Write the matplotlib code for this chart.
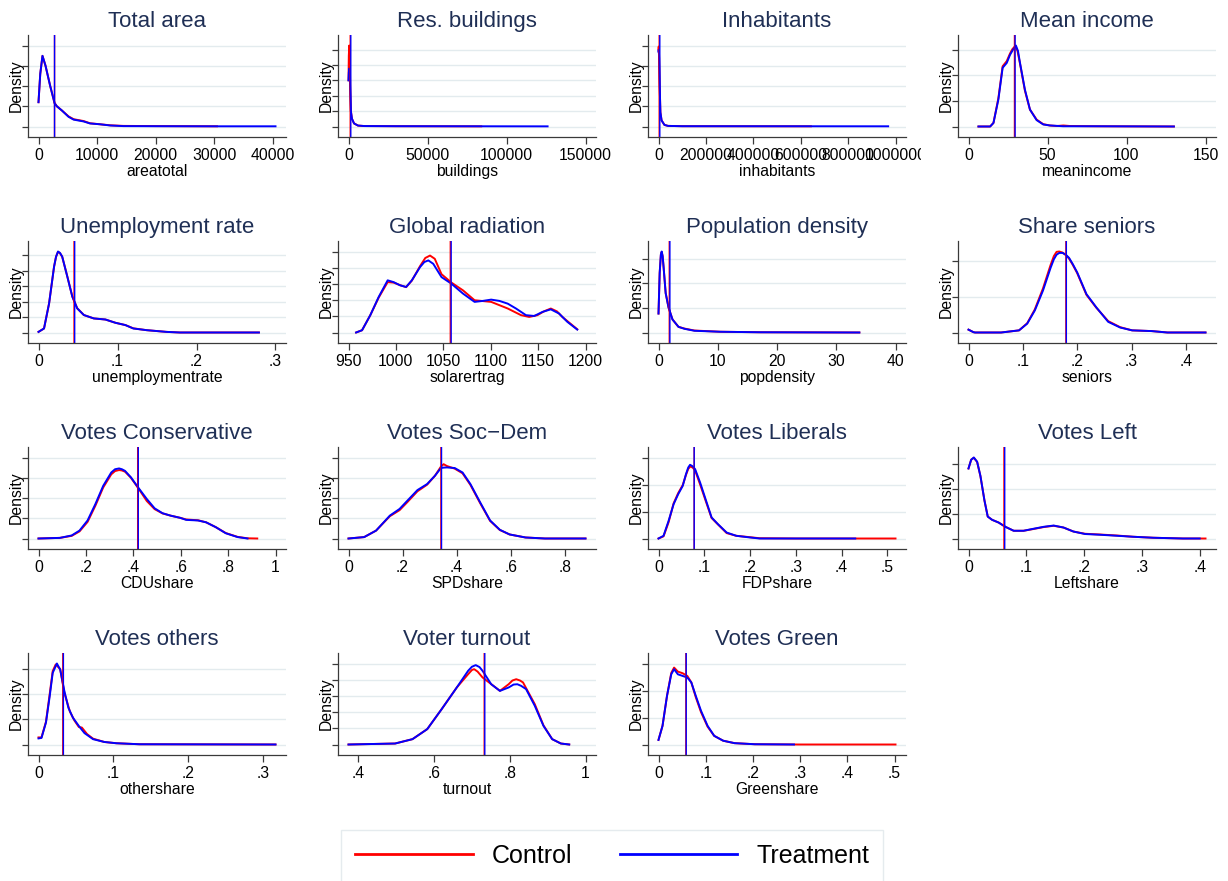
import matplotlib
matplotlib.use('Agg')
import matplotlib.pyplot as plt
from matplotlib.transforms import Bbox, TransformedBbox

plt.rcParams['font.family'] = ['Liberation Sans', 'DejaVu Sans']

# densities are given in units of the (unlabelled) y grid spacing

# Total area
area_x_c = [0, 300, 680, 1200, 2000, 2740, 3130, 4000, 5130, 6000, 7700, 8800, 10500, 12250, 14500, 20000, 30500]
area_y_c = [1.2, 2.6, 3.49, 3.0, 2.0, 1.16, 1.0, 0.79, 0.5, 0.36, 0.27, 0.16, 0.11, 0.06, 0.03, 0.02, 0.01]
area_x_t = [0, 300, 680, 1200, 2000, 2740, 3130, 4000, 5130, 6000, 7700, 8800, 10500, 12250, 14500, 20000, 30000, 40500]
area_y_t = [1.2, 2.6, 3.49, 3.0, 2.0, 1.16, 1.0, 0.79, 0.48, 0.34, 0.25, 0.15, 0.11, 0.05, 0.02, 0.015, 0.01, 0.01]
area_means = [2740, 2740]
area_ticks = [0, 10000, 20000, 30000, 40000]
area_labels = ['0', '10000', '20000', '30000', '40000']

# Res. buildings
bld_x_c = [0, 200, 500, 800, 1100, 1500, 2200, 3500, 6000, 10000, 30000, 84000]
bld_y_c = [3.0, 4.6, 5.26, 4.5, 2.5, 1.0, 0.5, 0.2, 0.06, 0.03, 0.02, 0.01]
bld_x_t = [0, 200, 500, 800, 1100, 1500, 2200, 3500, 6000, 10000, 30000, 126000]
bld_y_t = [3.0, 3.5, 3.76, 3.4, 2.2, 1.0, 0.5, 0.2, 0.06, 0.03, 0.02, 0.01]
bld_means = [1100, 1450]
bld_ticks = [0, 50000, 100000, 150000]
bld_labels = ['0', '50000', '100000', '150000']

# Inhabitants
inh_x_c = [0, 1000, 2500, 5000, 8000, 13000, 25000, 40000, 100000, 643000]
inh_y_c = [3.8, 3.95, 3.5, 2.0, 0.7, 0.3, 0.08, 0.03, 0.015, 0.01]
inh_x_t = [0, 1000, 2500, 5000, 8000, 13000, 25000, 40000, 100000, 969000]
inh_y_t = [3.7, 3.79, 3.4, 2.0, 0.7, 0.3, 0.08, 0.03, 0.015, 0.01]
inh_means = [3000, 5500]
inh_ticks = [0, 200000, 400000, 600000, 800000, 1000000]
inh_labels = ['0', '200000', '400000', '600000', '800000', '1000000']

# Mean income
inc_x_c = [6.3, 13.7, 15.8, 18.9, 21.6, 24.2, 26.3, 27.8, 29.6, 31.0, 32.6, 35.7, 38.9, 43.1, 47.3, 51.5,
           56, 60, 64, 80, 130]
inc_y_c = [0, 0.0, 0.14, 1.1, 2.35, 2.55, 2.85, 3.02, 3.14, 2.95, 2.45, 1.4, 0.66, 0.27, 0.09, 0.04,
           0.02, 0.04, 0.02, 0.01, 0.0]
inc_x_t = [6.3, 13.7, 15.8, 18.9, 21.6, 24.2, 26.3, 28.2, 30.0, 31.3, 32.6, 35.7, 38.9, 43.1, 47.3, 51.5,
           60, 80, 130]
inc_y_t = [0, 0.0, 0.14, 1.05, 2.29, 2.48, 2.8, 3.0, 3.16, 2.95, 2.48, 1.44, 0.66, 0.25, 0.08, 0.04,
           0.01, 0.01, 0.0]
inc_means = [29.1, 29.5]
inc_ticks = [0, 50, 100, 150]
inc_labels = ['0', '50', '100', '150']

# Unemployment rate
unemp_x = [0, 0.007, 0.0134, 0.0197, 0.0222, 0.0247, 0.0272, 0.030, 0.0365, 0.0428, 0.049, 0.0574, 0.07,
           0.0847, 0.0973, 0.11, 0.12, 0.137, 0.162, 0.179, 0.279]
unemp_y_c = [0.04, 0.26, 1.88, 4.26, 4.9, 5.22, 5.13, 4.9, 3.62, 2.33, 1.57, 1.13, 0.91,
             0.84, 0.63, 0.48, 0.27, 0.15, 0.04, 0.0, 0.0]
unemp_y_t = [0.04, 0.26, 1.88, 4.26, 4.9, 5.24, 5.15, 4.91, 3.61, 2.32, 1.56, 1.13, 0.91,
             0.84, 0.63, 0.48, 0.26, 0.15, 0.04, 0.0, 0.0]
unemp_means = [0.0450, 0.0458]
unemp_ticks = [0, 0.1, 0.2, 0.3]
unemp_labels = ['0', '.1', '.2', '.3']

# Global radiation
rad_x_c = [958, 964.3, 973, 981.8, 991.3, 997.6, 1004.5, 1010.8, 1016.8, 1025.5, 1031, 1036, 1041, 1048.1,
           1058.6, 1070.8, 1083, 1100.5, 1118, 1132, 1140.6, 1149.3, 1156, 1163.4, 1170, 1175.6, 1183, 1191.3]
rad_y_c = [0, 0.14, 1.07, 2.15, 3.11, 3.08, 2.92, 2.8, 3.2, 4.1, 4.6, 4.75, 4.55, 3.6,
           3.08, 2.6, 1.99, 1.89, 1.48, 1.07, 0.96, 1.07, 1.3, 1.48, 1.3, 0.96, 0.6, 0.2]
rad_x_t = [958, 964.3, 973, 981.8, 991.3, 997.6, 1004.5, 1010.8, 1016.8, 1025.5, 1030, 1034.2, 1039.4, 1048.1,
           1058.6, 1070.8, 1083, 1091.8, 1100.5, 1109.2, 1118, 1126.7, 1137.2, 1145.9, 1154.6, 1163.4,
           1172.1, 1180.8, 1191.3]
rad_y_t = [0, 0.14, 1.07, 2.19, 3.22, 3.11, 2.91, 2.81, 3.22, 4.04, 4.35, 4.45, 4.24, 3.42,
           3.01, 2.4, 1.89, 1.95, 2.03, 1.95, 1.78, 1.48, 1.07, 1.02, 1.27, 1.43,
           1.17, 0.66, 0.18]
rad_means = [1057.4, 1058.3]
rad_ticks = [950, 1000, 1050, 1100, 1150, 1200]
rad_labels = ['950', '1000', '1050', '1100', '1150', '1200']

# Population density
pop_x = [0, 0.2, 0.4, 0.54, 0.7, 0.88, 1.21, 1.69, 2.36, 3.37, 4.38, 6.07, 10.45, 17.2, 33.9]
pop_y_c = [0.77, 2.42, 3.15, 3.27, 3.1, 2.6, 1.6, 1.02, 0.53, 0.23, 0.16, 0.08, 0.03, 0.01, 0.0]
pop_y_t = [0.77, 2.42, 3.17, 3.29, 3.1, 2.59, 1.6, 1.02, 0.53, 0.23, 0.15, 0.07, 0.03, 0.01, 0.0]
pop_means = [1.82, 1.92]
pop_ticks = [0, 10, 20, 30, 40]
pop_labels = ['0', '10', '20', '30', '40']

# Share seniors
sen_x = [0, 0.009, 0.012, 0.06, 0.093, 0.108, 0.122, 0.137, 0.151, 0.157, 0.162, 0.167, 0.173, 0.179,
         0.185, 0.192, 0.2, 0.217, 0.235, 0.257, 0.279, 0.301, 0.337, 0.366, 0.436]
sen_y_c = [0.08, 0.01, 0.0, 0.0, 0.06, 0.26, 0.65, 1.24, 1.9, 2.15, 2.27, 2.28, 2.25, 2.18,
           2.08, 1.9, 1.67, 1.06, 0.7, 0.32, 0.15, 0.06, 0.04, 0.0, 0.0]
sen_y_t = [0.08, 0.01, 0.0, 0.0, 0.06, 0.25, 0.62, 1.18, 1.82, 2.06, 2.19, 2.24, 2.24, 2.19,
           2.1, 1.92, 1.69, 1.08, 0.71, 0.3, 0.14, 0.06, 0.04, 0.0, 0.0]
sen_means = [0.1792, 0.1800]
sen_ticks = [0, 0.1, 0.2, 0.3, 0.4]
sen_labels = ['0', '.1', '.2', '.3', '.4']

# Votes Conservative
cdu_x_c = [0, 0.09, 0.14, 0.173, 0.207, 0.24, 0.273, 0.307, 0.323, 0.34, 0.352, 0.365, 0.39, 0.423, 0.457,
           0.49, 0.523, 0.557, 0.598, 0.623, 0.673, 0.707, 0.748, 0.79, 0.84, 0.882, 0.923]
cdu_y_c = [0, 0.03, 0.13, 0.35, 0.82, 1.62, 2.52, 3.17, 3.33, 3.38, 3.36, 3.3, 3.0, 2.45, 1.85,
           1.45, 1.24, 1.13, 1.02, 0.94, 0.9, 0.8, 0.56, 0.27, 0.08, 0.01, 0.0]
cdu_x_t = [0, 0.09, 0.14, 0.173, 0.207, 0.24, 0.273, 0.307, 0.323, 0.34, 0.352, 0.365, 0.39, 0.423, 0.457,
           0.49, 0.523, 0.557, 0.598, 0.623, 0.673, 0.707, 0.748, 0.79, 0.84, 0.882]
cdu_y_t = [0, 0.03, 0.15, 0.39, 0.89, 1.7, 2.6, 3.26, 3.42, 3.46, 3.42, 3.34, 3.02, 2.48, 1.95,
           1.49, 1.25, 1.13, 1.02, 0.92, 0.89, 0.8, 0.56, 0.26, 0.07, 0.0]
cdu_means = [0.4185, 0.421]
cdu_ticks = [0, 0.2, 0.4, 0.6, 0.8, 1.0]
cdu_labels = ['0', '.2', '.4', '.6', '.8', '1']

# Votes Soc-Dem
spd_x = [0, 0.058, 0.102, 0.153, 0.189, 0.218, 0.255, 0.291, 0.32, 0.342, 0.352, 0.364, 0.393, 0.422,
         0.451, 0.487, 0.524, 0.56, 0.596, 0.655, 0.727, 0.877]
spd_y_c = [0, 0.07, 0.39, 1.1, 1.4, 1.8, 2.33, 2.66, 3.1, 3.55, 3.67, 3.58, 3.45, 3.22,
           2.65, 1.75, 0.87, 0.42, 0.2, 0.05, 0.0, 0.0]
spd_y_t = [0, 0.07, 0.39, 1.13, 1.46, 1.87, 2.39, 2.69, 3.1, 3.48, 3.5, 3.51, 3.48, 3.26,
           2.69, 1.79, 0.89, 0.43, 0.2, 0.05, 0.0, 0.0]
spd_means = [0.342, 0.3442]
spd_ticks = [0, 0.2, 0.4, 0.6, 0.8]
spd_labels = ['0', '.2', '.4', '.6', '.8']

# Votes Liberals
fdp_x_c = [0, 0.011, 0.022, 0.033, 0.043, 0.053, 0.06, 0.065, 0.07, 0.075, 0.08, 0.091, 0.104, 0.116,
           0.13, 0.149, 0.17, 0.199, 0.221, 0.3, 0.518]
fdp_y_c = [0, 0.08, 0.6, 1.3, 1.68, 1.98, 2.35, 2.58, 2.67, 2.62, 2.52, 2.0, 1.35, 0.76,
           0.52, 0.2, 0.1, 0.05, 0.01, 0.0, 0.0]
fdp_x_t = [0, 0.011, 0.022, 0.033, 0.043, 0.053, 0.06, 0.065, 0.069, 0.074, 0.08, 0.091, 0.104, 0.116,
           0.13, 0.149, 0.17, 0.199, 0.221, 0.3, 0.43]
fdp_y_t = [0, 0.1, 0.65, 1.27, 1.64, 1.95, 2.38, 2.63, 2.73, 2.68, 2.57, 2.07, 1.4, 0.78,
           0.53, 0.22, 0.1, 0.04, 0.0, 0.0, 0.0]
fdp_means = [0.078, 0.078]
fdp_ticks = [0, 0.1, 0.2, 0.3, 0.4, 0.5]
fdp_labels = ['0', '.1', '.2', '.3', '.4', '.5']

# Votes Left
left_x_c = [0, 0.0046, 0.0092, 0.0149, 0.0206, 0.0275, 0.0332, 0.0407, 0.052, 0.0636, 0.078, 0.095,
            0.112, 0.13, 0.147, 0.164, 0.181, 0.201, 0.227, 0.256, 0.284, 0.319, 0.37, 0.409]
left_y_c = [2.81, 3.16, 3.24, 3.07, 2.5, 1.53, 0.88, 0.75, 0.64, 0.47, 0.31, 0.31,
            0.38, 0.46, 0.51, 0.44, 0.28, 0.19, 0.16, 0.12, 0.07, 0.03, 0.0, 0.0]
left_x_t = [0, 0.0046, 0.0092, 0.0149, 0.0206, 0.0275, 0.0332, 0.0407, 0.052, 0.0636, 0.078, 0.095,
            0.112, 0.13, 0.147, 0.164, 0.181, 0.201, 0.227, 0.256, 0.284, 0.319, 0.37, 0.399]
left_y_t = [2.81, 3.16, 3.25, 3.08, 2.51, 1.53, 0.88, 0.75, 0.64, 0.47, 0.31, 0.31,
            0.39, 0.47, 0.52, 0.44, 0.28, 0.18, 0.15, 0.11, 0.07, 0.03, 0.0, 0.0]
left_means = [0.0612, 0.0625]
left_ticks = [0, 0.1, 0.2, 0.3, 0.4]
left_labels = ['0', '.1', '.2', '.3', '.4']

# Votes others
oth_x_c = [0, 0.004, 0.01, 0.015, 0.019, 0.023, 0.029, 0.0346, 0.042, 0.048, 0.054, 0.058, 0.065,
           0.073, 0.088, 0.104, 0.135, 0.317]
oth_y_c = [0.28, 0.28, 0.9, 2.0, 2.9, 3.16, 2.98, 2.04, 1.3, 0.95, 0.69, 0.67, 0.41,
           0.23, 0.1, 0.05, 0.01, 0.0]
oth_x_t = [0, 0.004, 0.01, 0.015, 0.019, 0.0246, 0.029, 0.0346, 0.04, 0.046, 0.054, 0.0615,
           0.073, 0.088, 0.104, 0.135, 0.317]
oth_y_t = [0.24, 0.26, 0.87, 1.91, 2.83, 3.2, 2.96, 2.11, 1.45, 1.06, 0.73, 0.45,
           0.21, 0.1, 0.05, 0.01, 0.0]
oth_means = [0.0325, 0.0333]
oth_ticks = [0, 0.1, 0.2, 0.3]
oth_labels = ['0', '.1', '.2', '.3']

# Voter turnout
turn_x_c = [0.374, 0.497, 0.543, 0.582, 0.62, 0.66, 0.69, 0.70, 0.706, 0.715, 0.728, 0.743, 0.774, 0.797,
            0.807, 0.817, 0.827, 0.835, 0.866, 0.889, 0.912, 0.935, 0.957]
turn_y_c = [0, 0.06, 0.33, 0.95, 2.18, 3.52, 4.34, 4.6, 4.65, 4.5, 4.14, 3.87, 3.31, 3.72,
            3.95, 4.03, 3.95, 3.83, 2.49, 1.18, 0.33, 0.06, 0]
turn_x_t = [0.374, 0.497, 0.543, 0.582, 0.62, 0.66, 0.69, 0.70, 0.71, 0.72, 0.728, 0.751, 0.774, 0.797,
            0.81, 0.82, 0.83, 0.843, 0.866, 0.889, 0.912, 0.935, 0.957]
turn_y_t = [0, 0.06, 0.33, 0.95, 2.18, 3.52, 4.55, 4.8, 4.9, 4.78, 4.55, 3.72, 3.31, 3.52,
            3.7, 3.72, 3.62, 3.42, 2.39, 1.15, 0.33, 0.06, 0]
turn_means = [0.7325, 0.734]
turn_ticks = [0.4, 0.6, 0.8, 1.0]
turn_labels = ['.4', '.6', '.8', '1']

# Votes Green
grn_x_c = [0, 0.0085, 0.018, 0.027, 0.033, 0.041, 0.051, 0.061, 0.0695, 0.079, 0.09, 0.104, 0.118,
           0.137, 0.161, 0.204, 0.3, 0.502]
grn_y_c = [0.17, 0.69, 1.8, 2.65, 2.85, 2.7, 2.64, 2.54, 2.3, 1.75, 1.2, 0.66, 0.32,
           0.14, 0.05, 0.01, 0.0, 0.0]
grn_x_t = [0, 0.0085, 0.018, 0.027, 0.033, 0.041, 0.051, 0.061, 0.0695, 0.079, 0.09, 0.104, 0.118,
           0.137, 0.161, 0.204, 0.287]
grn_y_t = [0.17, 0.69, 1.8, 2.6, 2.79, 2.6, 2.54, 2.48, 2.3, 1.8, 1.25, 0.69, 0.32,
           0.14, 0.05, 0.01, 0.0]
grn_means = [0.058, 0.0587]
grn_ticks = [0, 0.1, 0.2, 0.3, 0.4, 0.5]
grn_labels = ['0', '.1', '.2', '.3', '.4', '.5']

# title, x label, control curve, treatment curve, means, ticks, labels, number of y grid lines
panels = [
    ('Total area', 'areatotal', (area_x_c, area_y_c), (area_x_t, area_y_t), area_means, area_ticks, area_labels, 5),
    ('Res. buildings', 'buildings', (bld_x_c, bld_y_c), (bld_x_t, bld_y_t), bld_means, bld_ticks, bld_labels, 6),
    ('Inhabitants', 'inhabitants', (inh_x_c, inh_y_c), (inh_x_t, inh_y_t), inh_means, inh_ticks, inh_labels, 5),
    ('Mean income', 'meanincome', (inc_x_c, inc_y_c), (inc_x_t, inc_y_t), inc_means, inc_ticks, inc_labels, 4),
    ('Unemployment rate', 'unemploymentrate', (unemp_x, unemp_y_c), (unemp_x, unemp_y_t), unemp_means, unemp_ticks, unemp_labels, 6),
    ('Global radiation', 'solarertrag', (rad_x_c, rad_y_c), (rad_x_t, rad_y_t), rad_means, rad_ticks, rad_labels, 6),
    ('Population density', 'popdensity', (pop_x, pop_y_c), (pop_x, pop_y_t), pop_means, pop_ticks, pop_labels, 4),
    ('Share seniors', 'seniors', (sen_x, sen_y_c), (sen_x, sen_y_t), sen_means, sen_ticks, sen_labels, 3),
    ('Votes Conservative', 'CDUshare', (cdu_x_c, cdu_y_c), (cdu_x_t, cdu_y_t), cdu_means, cdu_ticks, cdu_labels, 5),
    ('Votes Soc\u2212Dem', 'SPDshare', (spd_x, spd_y_c), (spd_x, spd_y_t), spd_means, spd_ticks, spd_labels, 5),
    ('Votes Liberals', 'FDPshare', (fdp_x_c, fdp_y_c), (fdp_x_t, fdp_y_t), fdp_means, fdp_ticks, fdp_labels, 4),
    ('Votes Left', 'Leftshare', (left_x_c, left_y_c), (left_x_t, left_y_t), left_means, left_ticks, left_labels, 4),
    ('Votes others', 'othershare', (oth_x_c, oth_y_c), (oth_x_t, oth_y_t), oth_means, oth_ticks, oth_labels, 4),
    ('Voter turnout', 'turnout', (turn_x_c, turn_y_c), (turn_x_t, turn_y_t), turn_means, turn_ticks, turn_labels, 6),
    ('Votes Green', 'Greenshare', (grn_x_c, grn_y_c), (grn_x_t, grn_y_t), grn_means, grn_ticks, grn_labels, 4),
]

W, H = 1228, 881
fig = plt.figure(figsize=(W / 100, H / 100), dpi=100)
fig.patch.set_facecolor('white')

col_left = [28, 338, 648, 958]
row_top = [35, 241, 447, 653]
ax_w, ax_h = 258, 102
axis_col = '#3a3a3a'
title_col = '#1f2f55'

handles = None
for i, (title, xlab, ctrl, trt, means, ticks, labels, ngrid) in enumerate(panels):
    r, c = divmod(i, 4)
    ax = fig.add_axes([col_left[c] / W, 1 - (row_top[r] + ax_h) / H, ax_w / W, ax_h / H])
    l1, = ax.plot(ctrl[0], ctrl[1], color='red', lw=1.4, solid_joinstyle='round')
    l2, = ax.plot(trt[0], trt[1], color='blue', lw=1.4, solid_joinstyle='round')
    ax.axvline(means[0], color='red', lw=1.0, snap=False)
    ax.axvline(means[1], color='blue', lw=1.0, snap=False)
    if handles is None:
        handles = [l1, l2]

    # Stata-like ranges: data plus ticks, with a fixed margin in pixels
    lo = min(min(ctrl[0]), min(trt[0]), ticks[0])
    hi = max(max(ctrl[0]), max(trt[0]), ticks[-1])
    pad = (hi - lo) * 10.5 / (ax_w - 21)
    ax.set_xlim(lo - pad, hi + pad)
    top = max(max(ctrl[1]), max(trt[1]), ngrid - 1)
    ypad = top * 10.5 / (ax_h - 21)
    ax.set_ylim(-ypad, top + ypad)

    ax.set_xticks(ticks)
    ax.set_xticklabels(labels)
    ax.set_yticks(range(ngrid))
    ax.set_yticklabels([])
    ax.yaxis.grid(True, color='#e3ebee', lw=1.0)
    ax.set_axisbelow(True)
    for s in ['top', 'right']:
        ax.spines[s].set_visible(False)
    for s in ['left', 'bottom']:
        ax.spines[s].set_color(axis_col)
        ax.spines[s].set_linewidth(0.9)
    ax.tick_params(axis='x', length=5, width=0.9, color=axis_col, labelsize=11.3, pad=3)
    ax.tick_params(axis='y', length=4, width=0.9, color=axis_col)
    ax.set_title(title, fontsize=16, color=title_col, pad=6)
    ax.set_xlabel(xlab, fontsize=11.3, labelpad=0.5)
    ax.set_ylabel('Density', fontsize=11.3)
    ax.yaxis.set_label_coords(-0.018, 0.5)

    # each sub-graph clips its own tick labels, as in a combined graph
    cell = TransformedBbox(Bbox([[c * 0.25, 0], [(c + 1) * 0.25, 1]]), fig.transFigure)
    for lab in ax.get_xticklabels():
        lab.set_clip_box(cell)
        lab.set_clip_on(True)

leg = fig.legend(handles, ['Control', 'Treatment'], loc='center', ncol=2,
                 bbox_to_anchor=(612 / W, 1 - 856 / H), fontsize=18, frameon=True,
                 fancybox=False, handlelength=4.7, handletextpad=0.76, columnspacing=1.9,
                 borderpad=0.55)
leg.get_frame().set_edgecolor('#dfe7ea')
leg.get_frame().set_linewidth(1.0)
for ln in leg.get_lines():
    ln.set_linewidth(2.0)

fig.savefig('out.png', dpi=100, facecolor='white')
